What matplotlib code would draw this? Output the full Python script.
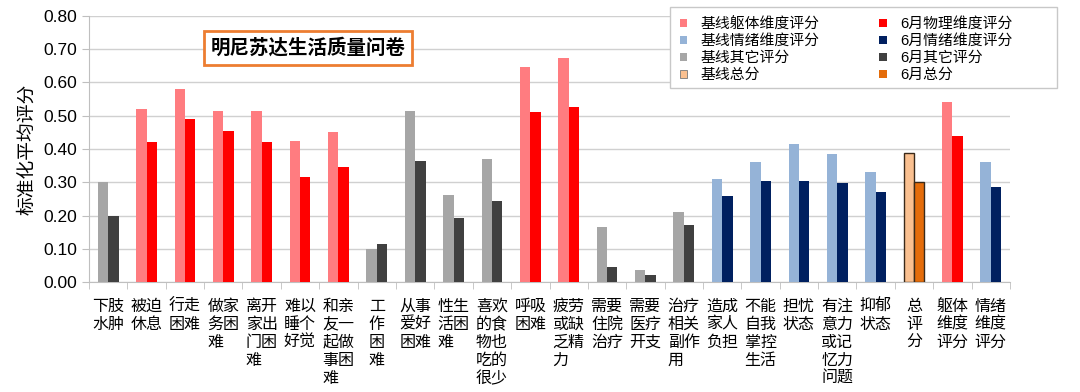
import matplotlib
matplotlib.use("Agg")
import matplotlib.pyplot as plt
import numpy as np
from matplotlib.patches import Patch, Rectangle

plt.rcParams['font.family'] = ['Liberation Sans', 'Noto Sans CJK SC', 'DejaVu Sans']

labels = ['下肢\n水肿', '被迫\n休息', '行走\n困难', '做家\n务困\n难', '离开\n家出\n门困\n难',
          '难以\n睡个\n好觉', '和亲\n友一\n起做\n事困\n难', '工\n作\n困\n难', '从事\n爱好\n困难',
          '性生\n活困\n难', '喜欢\n的食\n物也\n吃的\n很少', '呼吸\n困难', '疲劳\n或缺\n乏精\n力',
          '需要\n住院\n治疗', '需要\n医疗\n开支', '治疗\n相关\n副作\n用', '造成\n家人\n负担',
          '不能\n自我\n掌控\n生活', '担忧\n状态', '有注\n意力\n或记\n忆力\n问题', '抑郁\n状态',
          '总\n评\n分', '躯体\n维度\n评分', '情绪\n维度\n评分']
groups = ['other', 'body', 'body', 'body', 'body', 'body', 'body', 'other', 'other', 'other',
          'other', 'body', 'body', 'other', 'other', 'other', 'emo', 'emo', 'emo', 'emo', 'emo',
          'total', 'body', 'emo']
baseline = [0.30, 0.52, 0.58, 0.515, 0.515, 0.425, 0.45, 0.10, 0.515, 0.263, 0.37, 0.648,
            0.675, 0.166, 0.036, 0.21, 0.31, 0.36, 0.415, 0.385, 0.33, 0.387, 0.54, 0.36]
june = [0.20, 0.42, 0.49, 0.455, 0.42, 0.315, 0.345, 0.115, 0.365, 0.193, 0.245, 0.51,
        0.525, 0.045, 0.02, 0.17, 0.26, 0.305, 0.305, 0.297, 0.272, 0.30, 0.44, 0.287]

base_colors = {'body': '#FF7C80', 'emo': '#95B3D7', 'other': '#A6A6A6', 'total': '#FAC090'}
june_colors = {'body': '#FF0000', 'emo': '#002060', 'other': '#404040', 'total': '#E46C0A'}
legend_labels = ['基线躯体维度评分', '基线情绪维度评分', '基线其它评分', '基线总分',
                 '6月物理维度评分', '6月情绪维度评分', '6月其它评分', '6月总分']

fig = plt.figure(figsize=(10.8, 3.92), dpi=100)
ax = fig.add_axes([89 / 1080, 1 - 282 / 392, 921 / 1080, 266 / 392])

x = np.arange(len(labels))
w = 0.27
for i, g in enumerate(groups):
    ec = '#3a2a1a' if g == 'total' else 'none'
    lw = 1.0 if g == 'total' else 0
    ax.bar(x[i] - w / 2, baseline[i], w, color=base_colors[g], edgecolor=ec, linewidth=lw, zorder=3)
    ax.bar(x[i] + w / 2, june[i], w, color=june_colors[g], edgecolor=ec, linewidth=lw, zorder=3)

ax.set_xlim(-0.5, len(labels) - 0.5)
ax.set_ylim(0, 0.8)
ax.set_yticks(np.arange(0, 0.81, 0.1))
ax.set_yticklabels([f'{v:.2f}' for v in np.arange(0, 0.81, 0.1)], fontsize=12.5)
ax.yaxis.grid(True, color='#D0D0D0', linewidth=1, zorder=0)
ax.tick_params(axis='y', length=5, color='#BFBFBF', pad=3.5)

ax.set_xticks(x)
ax.set_xticklabels(labels, fontsize=11.5, linespacing=1.25, va='top', ha='center',
                   multialignment='left')
ax.tick_params(axis='x', which='major', length=0, pad=12)
ax.set_xticks(np.arange(-0.5, len(labels), 1), minor=True)
ax.tick_params(axis='x', which='minor', length=5, color='#BFBFBF')

for s in ['top', 'right']:
    ax.spines[s].set_visible(False)
for s in ['left', 'bottom']:
    ax.spines[s].set_color('#BFBFBF')

ax.set_ylabel('标准化平均评分', fontsize=13.5, labelpad=5)

# legend frame drawn separately (it is wider than its content)
fig.patches.append(Rectangle((670 / 1080, 1 - 88 / 392), 387 / 1080, 81 / 392,
                             transform=fig.transFigure, facecolor='white',
                             edgecolor='#C8C8C8', linewidth=1, zorder=5))

handles = []
for g in ['body', 'emo', 'other', 'total']:
    handles.append(Patch(facecolor=base_colors[g], edgecolor='#777777' if g == 'total' else 'none', linewidth=0.6))
for g in ['body', 'emo', 'other', 'total']:
    handles.append(Patch(facecolor=june_colors[g], edgecolor='none'))
leg = fig.legend(handles, legend_labels, ncol=2, loc='upper left',
                 bbox_to_anchor=(671 / 1080, 1 - 8 / 392), fontsize=10.7,
                 handlelength=0.5, handleheight=0.5, handletextpad=0.9,
                 labelspacing=0.2, columnspacing=4.0, borderpad=0.1,
                 frameon=False)
leg.set_zorder(6)

fig.text(308 / 1080, 1 - 48 / 392, '明尼苏达生活质量问卷', fontsize=14, fontweight='bold',
         ha='center', va='center',
         bbox=dict(boxstyle='square,pad=0.35', facecolor='white', edgecolor='#ED7D31', linewidth=2))

fig.savefig('out.png', dpi=100)
